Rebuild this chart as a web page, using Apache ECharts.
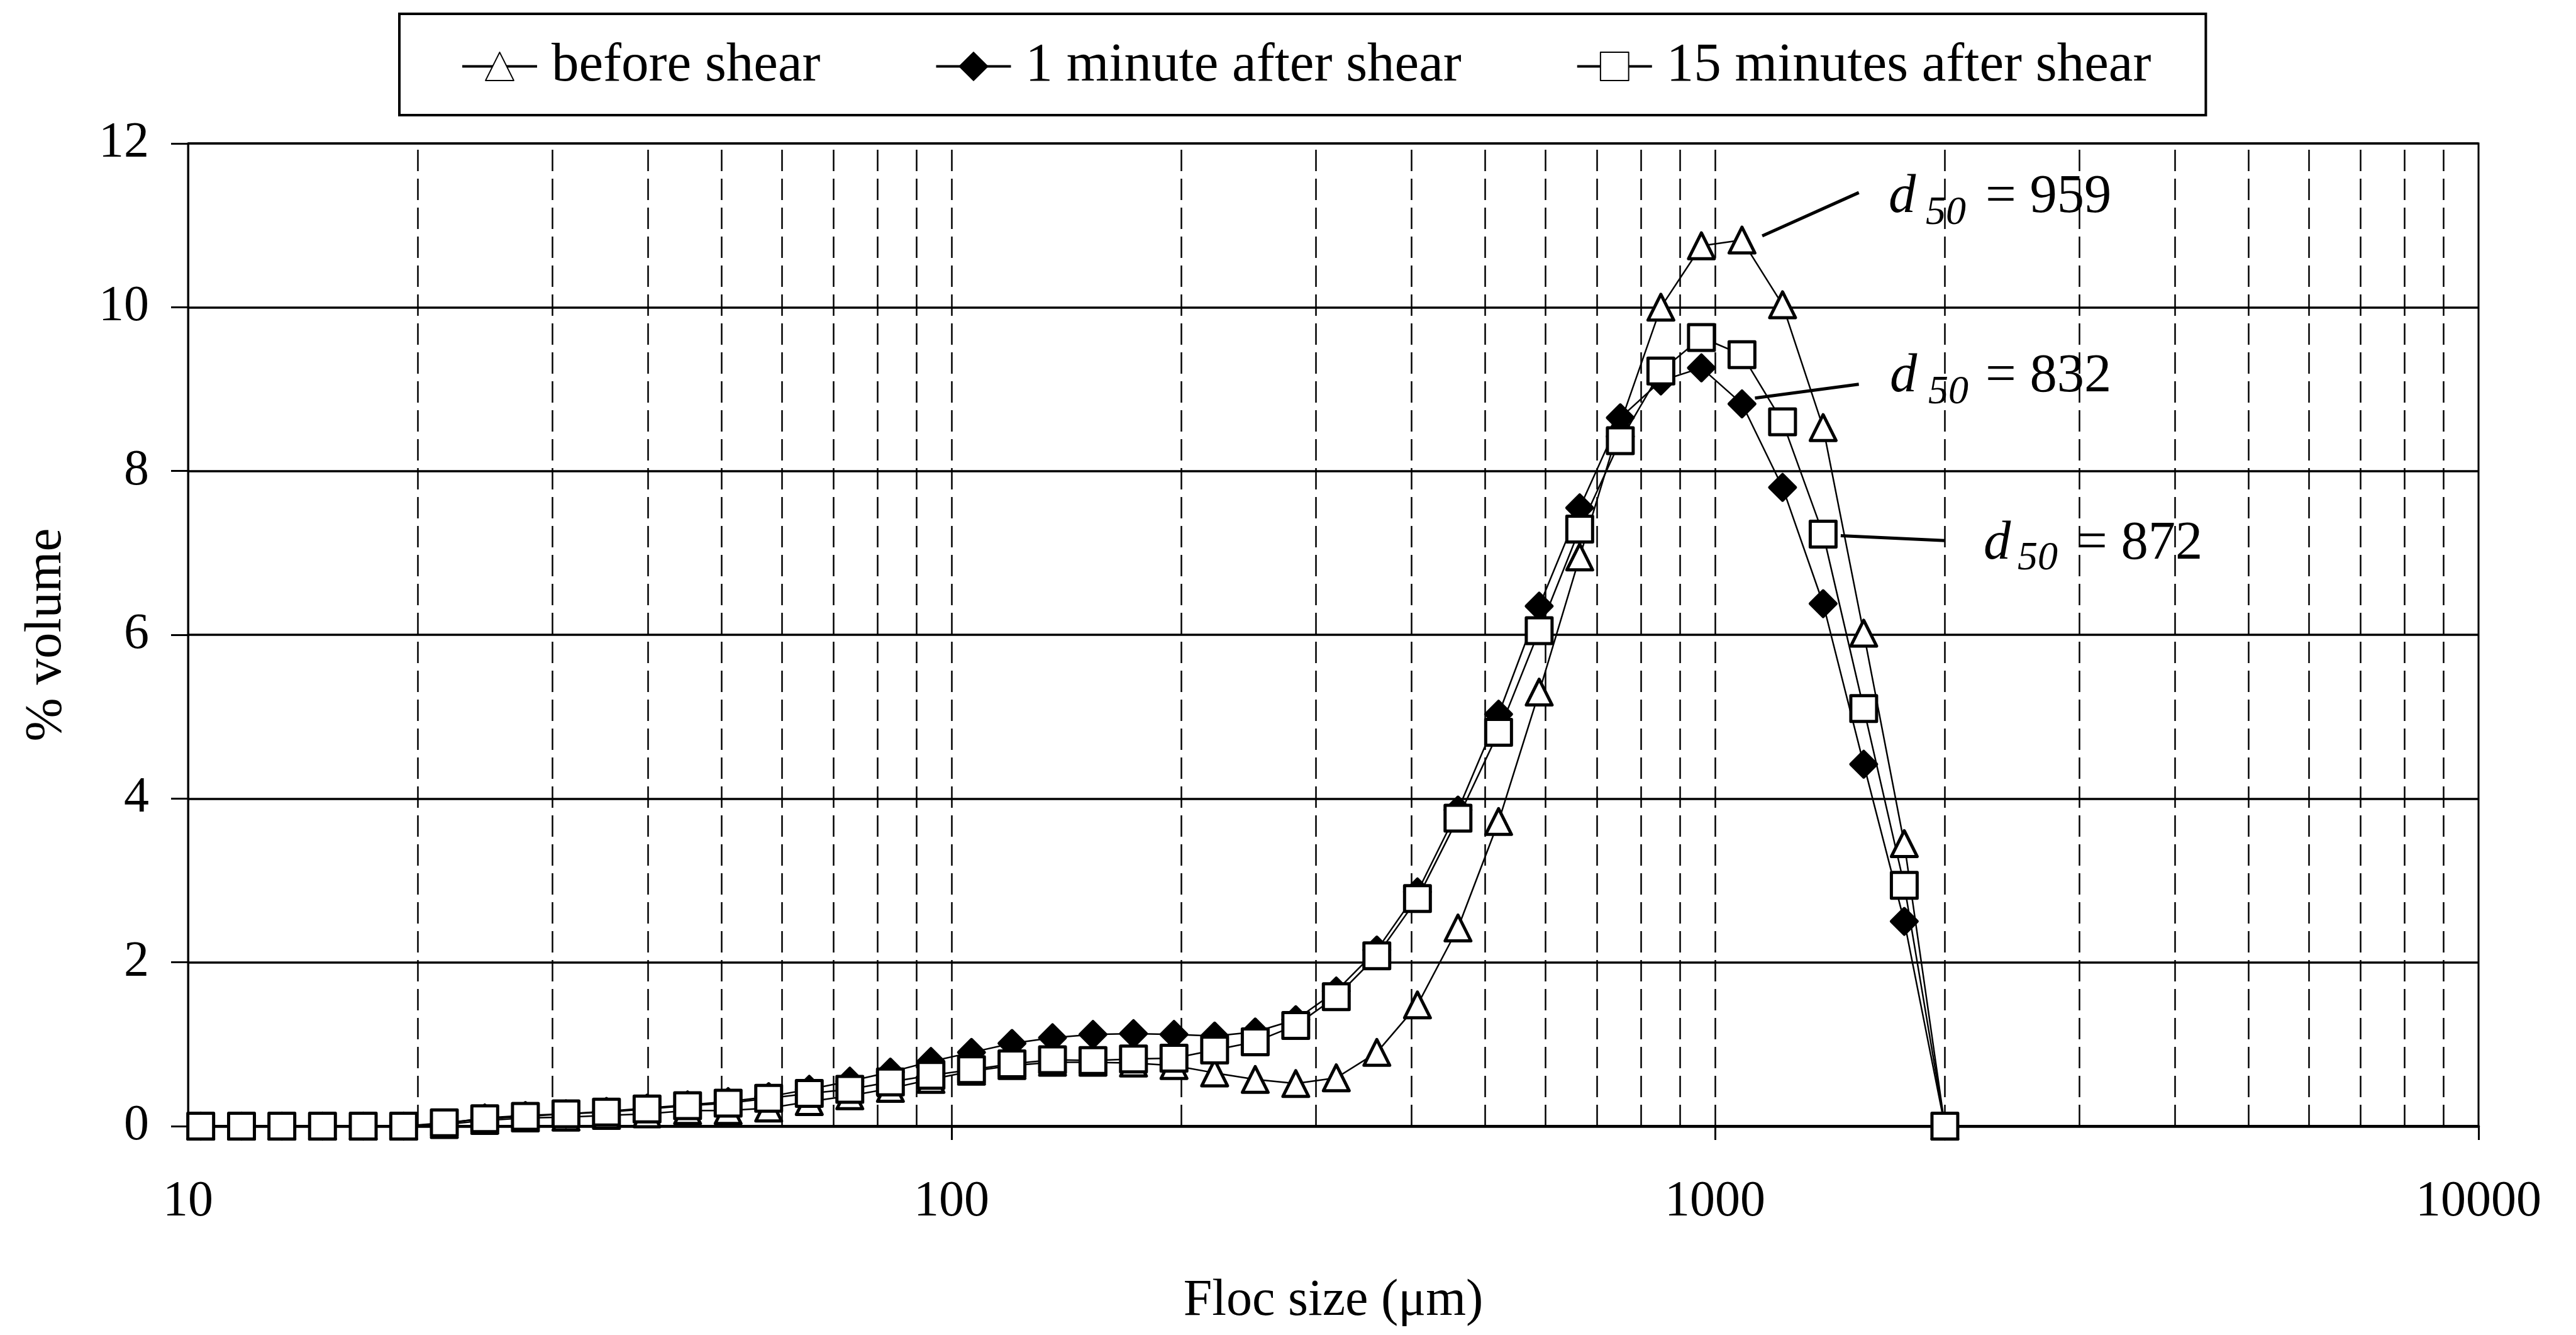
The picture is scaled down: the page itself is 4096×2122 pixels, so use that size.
<!DOCTYPE html>
<html>
<head>
<meta charset="utf-8">
<title>Floc size distribution</title>
<style>
  html, body { margin: 0; padding: 0; background: #ffffff; }
  #chart { width: 4096px; height: 2122px; }
</style>
<script src="https://cdn.jsdelivr.net/npm/echarts@6/dist/echarts.min.js"></script>
</head>
<body>
<div id="chart"></div>
<script>
// Size classes of the particle sizer (µm)
const flocSize = [
  10.39, 11.75, 13.27, 15.00, 16.96, 19.16, 21.66, 24.47, 27.66, 31.26,
  35.32, 39.92, 45.11, 50.98, 57.61, 65.11, 73.58, 83.16, 93.98, 106.2,
  120.0, 135.6, 153.2, 173.1, 195.6, 221.1, 249.9, 282.4, 319.1, 360.6,
  407.6, 460.6, 520.6, 588.4, 664.9, 751.5, 849.3, 959.8, 1084.7, 1225.9,
  1385.5, 1565.8, 1769.6, 2000
];

// % volume in each size class
const beforeShear = [
  0, 0, 0, 0, 0, 0, 0.02, 0.07, 0.10, 0.11,
  0.13, 0.15, 0.19, 0.19, 0.22, 0.30, 0.37, 0.46, 0.57, 0.67,
  0.74, 0.78, 0.78, 0.77, 0.74, 0.65, 0.57, 0.52, 0.59, 0.90,
  1.48, 2.42, 3.72, 5.30, 6.95, 8.58, 10.00, 10.75, 10.82, 10.03,
  8.53, 6.02, 3.45, 0
];
const oneMinuteAfter = [
  0, 0, 0, 0, 0, 0, 0.03, 0.10, 0.13, 0.15,
  0.18, 0.22, 0.26, 0.30, 0.36, 0.45, 0.55, 0.66, 0.79, 0.90,
  1.01, 1.08, 1.12, 1.13, 1.12, 1.10, 1.15, 1.30, 1.65, 2.15,
  2.86, 3.86, 5.03, 6.35, 7.55, 8.65, 9.10, 9.26, 8.82, 7.80,
  6.38, 4.42, 2.50, 0
];
const fifteenMinutesAfter = [
  0, 0, 0, 0, 0, 0, 0.04, 0.09, 0.12, 0.15,
  0.17, 0.21, 0.25, 0.28, 0.34, 0.40, 0.45, 0.54, 0.62, 0.69,
  0.76, 0.81, 0.80, 0.82, 0.83, 0.93, 1.03, 1.23, 1.58, 2.08,
  2.78, 3.76, 4.81, 6.05, 7.29, 8.37, 9.22, 9.63, 9.42, 8.60,
  7.23, 5.10, 2.94, 0
];

const seriesNames = ['before shear', '1 minute after shear', '15 minutes after shear'];
const d50Values = [959, 832, 872];

const xTicks = [10, 100, 1000, 10000];
const yTicks = [0, 2, 4, 6, 8, 10, 12];
const xGridLines = [
  20, 30, 40, 50, 60, 70, 80, 90, 100,
  200, 300, 400, 500, 600, 700, 800, 900, 1000,
  2000, 3000, 4000, 5000, 6000, 7000, 8000, 9000
];

// ---- layout ----
const FONT = '"Liberation Serif", "Times New Roman", serif';
const MAIN_FS = 86.6;
const SUB_FS = 64;

// leader lines from the curves to the d50 notes, in axis units
const leaderLines = [
  [[1153, 10.87], [1543, 11.40]],
  [[1128, 8.89], [1543, 9.06]],
  [[1461, 7.21], [2000, 7.15]]
];
// note placement in pixels: left of "d", left of subscript, left of "= value", baselines
const notePlacement = [
  { d: 3003, sub: 3062, eq: 3157, base: 342, subBase: 360 },
  { d: 3005, sub: 3066, eq: 3157, base: 627, subBase: 645 },
  { d: 3154, sub: 3208, eq: 3302, base: 893, subBase: 909 }
];

function pairs(values) {
  return flocSize.map((x, i) => [x, values[i]]);
}

function dataSeries(name, values, symbol, filled) {
  return {
    name: name,
    type: 'line',
    data: pairs(values),
    symbol: symbol,
    symbolSize: 41,
    showAllSymbol: true,
    lineStyle: { color: '#000', width: 2.5 },
    itemStyle: {
      color: filled ? '#000' : '#fff',
      borderColor: '#000',
      borderWidth: 5,
      borderJoin: 'round'
    },
    emphasis: { disabled: true },
    z: 3,
    animation: false
  };
}

function textEl(x, y, text, font) {
  return {
    type: 'text', x: x, y: y, silent: true, z: 20,
    style: {
      text: text, font: font, fill: '#000',
      align: 'left', verticalAlign: 'middle',
      textAlign: 'left', textVerticalAlign: 'middle'
    }
  };
}

const noteGraphics = [];
d50Values.forEach((v, i) => {
  const p = notePlacement[i];
  noteGraphics.push(textEl(p.d, p.base - 0.32 * MAIN_FS, 'd', 'italic ' + MAIN_FS + 'px ' + FONT));
  noteGraphics.push(textEl(p.sub, p.subBase - 0.32 * SUB_FS, '50', 'italic ' + SUB_FS + 'px ' + FONT));
  noteGraphics.push(textEl(p.eq, p.base - 0.32 * MAIN_FS, '= ' + v, MAIN_FS + 'px ' + FONT));
});

const chart = echarts.init(document.getElementById('chart'), null, { renderer: 'canvas' });

chart.setOption({
  animation: false,
  backgroundColor: '#ffffff',
  textStyle: { fontFamily: FONT, color: '#000' },
  grid: {
    left: 299, right: 155, top: 228, bottom: 332,
    show: true, borderColor: '#000', borderWidth: 3,
    containLabel: false, outerBoundsMode: 'none'
  },
  legend: {
    data: seriesNames,
    left: 635, top: 22,
    orient: 'horizontal',
    itemWidth: 119, itemHeight: 56, itemGap: 182,
    padding: [40, 87, 34, 98],
    borderColor: '#000', borderWidth: 4,
    backgroundColor: '#fff',
    selectedMode: false,
    lineStyle: { width: 4 },
    textStyle: { fontFamily: FONT, fontSize: 87, color: '#000', padding: [0, 0, 0, 18] }
  },
  xAxis: {
    type: 'log', logBase: 10,
    min: xTicks[0], max: xTicks[xTicks.length - 1],
    axisLine: { show: true, onZero: false, lineStyle: { color: '#000', width: 4.5 } },
    axisTick: { show: true, inside: false, length: 22, lineStyle: { color: '#000', width: 3 } },
    axisLabel: {
      margin: 81, fontFamily: FONT, fontSize: 80, color: '#000',
      formatter: function (v) {
        const t = xTicks.find(function (k) { return Math.abs(k - v) / k < 1e-6; });
        return t === undefined ? '' : String(t);
      }
    },
    splitLine: { show: false },
    minorTick: { show: false },
    minorSplitLine: { show: false },
    name: 'Floc size (μm)',
    nameLocation: 'middle', nameGap: 237,
    nameTextStyle: { fontFamily: FONT, fontSize: 82, color: '#000' }
  },
  yAxis: {
    type: 'value',
    min: yTicks[0], max: yTicks[yTicks.length - 1], interval: yTicks[1] - yTicks[0],
    axisLine: { show: true, onZero: false, lineStyle: { color: '#000', width: 3 } },
    axisTick: { show: true, inside: false, length: 27, lineStyle: { color: '#000', width: 3 } },
    axisLabel: { margin: 62, fontFamily: FONT, fontSize: 80, color: '#000' },
    splitLine: { show: true, lineStyle: { color: '#000', width: 3.5 } },
    name: '% volume',
    nameLocation: 'middle', nameGap: 183, nameRotate: 90,
    nameTextStyle: { fontFamily: FONT, fontSize: 83, color: '#000' }
  },
  tooltip: { show: false },
  series: [
    {
      name: 'gridlines', type: 'line', data: [], silent: true, z: 1,
      markLine: {
        silent: true, animation: false, z: 1,
        symbol: ['none', 'none'],
        label: { show: false },
        emphasis: { disabled: true },
        lineStyle: { color: '#000', width: 2.5, type: [34, 12] },
        data: xGridLines.map(function (v) { return { xAxis: v }; })
      }
    },
    dataSeries(seriesNames[0], beforeShear, 'triangle', false),
    dataSeries(seriesNames[1], oneMinuteAfter, 'diamond', true),
    dataSeries(seriesNames[2], fifteenMinutesAfter, 'rect', false),
    {
      name: 'leaders', type: 'line', data: [], silent: true, z: 4,
      markLine: {
        silent: true, animation: false, z: 4,
        symbol: ['none', 'none'],
        label: { show: false },
        emphasis: { disabled: true },
        lineStyle: { color: '#000', width: 5, type: 'solid' },
        data: leaderLines.map(function (seg) { return [{ coord: seg[0] }, { coord: seg[1] }]; })
      }
    }
  ],
  graphic: noteGraphics
});
</script>
</body>
</html>
